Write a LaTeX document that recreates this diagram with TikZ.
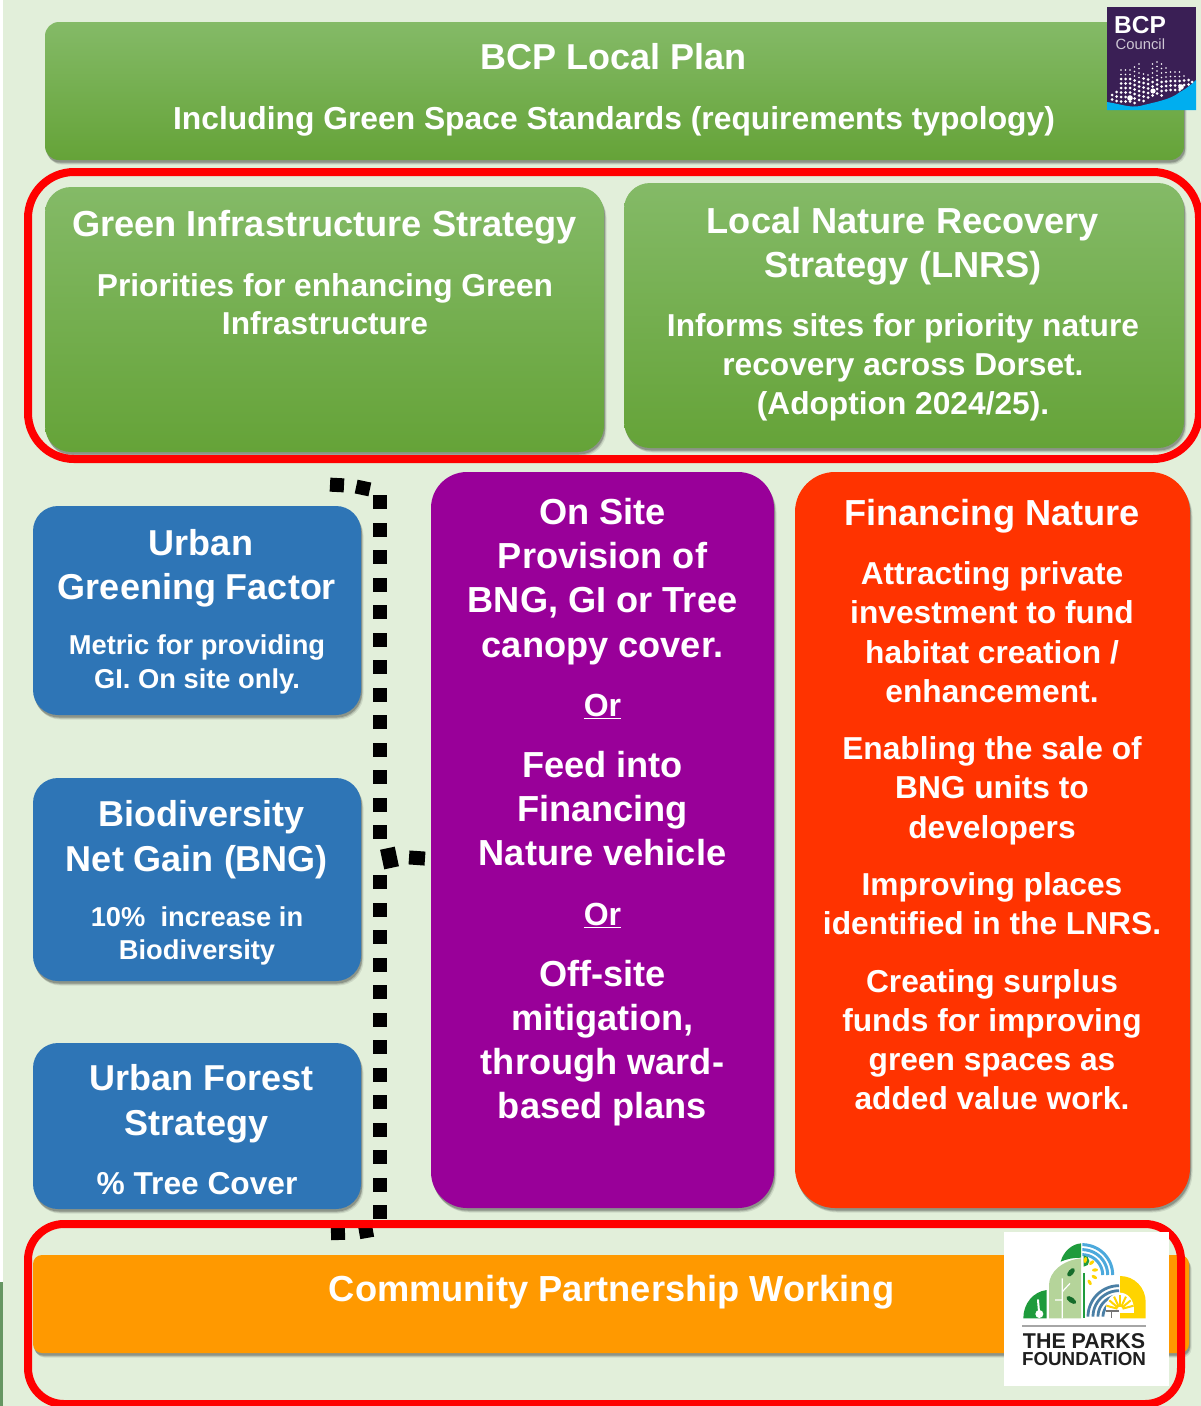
\documentclass[tikz,border=0pt]{standalone}
\usepackage{fontspec}
\setmainfont{Liberation Sans}
\usetikzlibrary{shadows}
\definecolor{pagebg}{HTML}{E2EFDA}
\definecolor{grtop}{HTML}{84BA67}
\definecolor{grbot}{HTML}{65A338}
\definecolor{bluebox}{HTML}{2E75B6}
\definecolor{purplebox}{HTML}{990099}
\definecolor{redbox}{HTML}{FF3300}
\definecolor{orangebox}{HTML}{FF9900}
\definecolor{bcpdark}{HTML}{3A1F55}
\definecolor{bcpcyan}{HTML}{00AEEF}
\definecolor{pkgreen}{HTML}{1E9B3C}
\definecolor{pkpale}{HTML}{B5D49A}
\definecolor{pkblue}{HTML}{4CA9DC}
\definecolor{pksteel}{HTML}{4A7FA5}
\definecolor{pkyellow}{HTML}{FFD400}
\tikzset{
  softshadow/.style={
    general shadow={shadow xshift=2.5pt,shadow yshift=-4.5pt,fill=black,opacity=.09},
    general shadow={shadow xshift=1.5pt,shadow yshift=-3.5pt,fill=black,opacity=.14},
    general shadow={shadow xshift=1pt,shadow yshift=-2.5pt,fill=black,opacity=.20}},
  panel/.style={rectangle,inner sep=0pt,outer sep=0pt,softshadow},
  greenpanel/.style={panel,top color=grtop,bottom color=grbot},
  bluepanel/.style={panel,fill=bluebox},
  purplepanel/.style={panel,fill=purplebox},
  redpanel/.style={panel,fill=redbox},
  orangepanel/.style={panel,fill=orangebox},
  frame/.style={rectangle,inner sep=0pt,outer sep=0pt,draw=red,line width=8pt},
  para/.style={anchor=north,inner sep=0pt,outer sep=0pt,align=center,text=white},
}
\newcommand{\panel}[7]{%
  \pgfmathsetmacro\pw{#4-#2}\pgfmathsetmacro\ph{#5-#3}%
  \pgfmathsetmacro\pcx{(#4+#2)/2}\pgfmathsetmacro\pcy{(#5+#3)/2}%
  \node[#7,rounded corners=#6pt,minimum width=\pw pt,minimum height=\ph pt] (#1) at (\pcx,\pcy) {};}
\newcommand{\para}[6]{%
  \pgfmathsetmacro\py{#3-0.7*#5}%
  \node[para,font={\fontsize{#4}{#5}\selectfont\bfseries}] (#1) at (#2,\py) {\strut #6};}
\newcommand{\sq}[3]{\fill[black,rotate around={#3:(#1,#2)}] (#1-7,#2-7) rectangle (#1+7,#2+7);}
\begin{document}
\begin{tikzpicture}[x=1pt,y=-1pt]
\useasboundingbox (0,0) rectangle (1201,1406);
\clip (0,0) rectangle (1201,1406);
\fill[pagebg] (0,0) rectangle (1201,1406);
\fill[white] (0,0) rectangle (3,1282);
\fill[green!30!black!55!pagebg] (0,1282) rectangle (3,1406);

% panels
\panel{plan}{45}{22}{1184}{160}{14}{greenpanel}
\panel{gi}{45}{187}{604}{452}{26}{greenpanel}
\panel{lnrs}{624}{183}{1184}{448}{26}{greenpanel}
\panel{ugf}{33}{506}{361}{715}{25}{bluepanel}
\panel{bng}{33}{778}{361}{981}{25}{bluepanel}
\panel{ufs}{33}{1043}{361}{1209}{25}{bluepanel}
\panel{onsite}{431}{472}{774}{1208}{36}{purplepanel}
\panel{fin}{795}{472}{1190}{1208}{40}{redpanel}
\panel{comm}{33}{1255}{1189}{1353}{9}{orangepanel}

% dotted bracket
\foreach \k in {0,...,12}{\pgfmathsetmacro\dy{502+27.5*\k}\sq{380}{\dy}{0}}
\foreach \k in {0,...,12}{\pgfmathsetmacro\dy{882+27.5*\k}\sq{380}{\dy}{0}}
\sq{337}{485}{-3}
\sq{363}{488}{-12}
\sq{338}{1233}{2}
\sq{366}{1231}{10}
\fill[black,rotate around={12:(389.5,858)}] (382,848) rectangle (397,868);
\fill[black,rotate around={-4:(417,858)}] (409,851) rectangle (425,865);

% frames
\panel{frametop}{28}{172}{1199}{459}{46}{frame}
\panel{framebot}{28}{1224}{1181}{1404}{36}{frame}

% texts
\para{planT}{613.5}{69}{36}{44}{BCP Local Plan}
\para{planS}{614}{129}{31.8}{39}{Including Green Space Standards (requirements typology)}
\para{giT}{324.5}{236}{36.2}{44}{Green Infrastructure Strategy}
\para{giS}{325}{296}{31.7}{38.5}{Priorities for enhancing Green\\Infrastructure}
\para{lnrsT}{903}{233}{36.2}{44}{Local Nature Recovery\\Strategy (LNRS)}
\para{lnrsS}{903}{336}{31.7}{39.2}{Informs sites for priority nature\\recovery across Dorset.\\(Adoption 2024/25).}
\para{ugfT}{197}{555}{36}{44}{\hspace*{8pt}Urban\\Greening Factor}
\para{ugfS}{197}{654}{27.3}{34}{Metric for providing\\GI. On site only.}
\para{bngT}{197}{826}{36}{45}{\hspace*{9pt}Biodiversity\\Net Gain (BNG)}
\para{bngS}{197}{926}{27.3}{33}{10\%\ \ increase in\\Biodiversity}
\para{ufsT}{197}{1090}{36}{45}{\hspace*{9pt}Urban Forest\\Strategy}
\para{ufsS}{197}{1194}{31.7}{39}{\% Tree Cover}
\para{osA}{602.5}{524}{36.2}{44.4}{On Site\\Provision of\\BNG, GI or Tree\\canopy cover.}
\para{osOrA}{602.5}{716}{32}{39}{\underline{Or}}
\para{osB}{602.5}{777.5}{36.2}{44}{Feed into\\Financing\\Nature vehicle}
\para{osOrB}{602.5}{925}{32}{39}{\underline{Or}}
\para{osC}{602.5}{986}{36.2}{44.3}{Off-site\\mitigation,\\through ward-\\based plans}
\para{finT}{992}{525}{36.2}{44}{Financing Nature}
\para{finA}{992}{584}{31.7}{39.5}{Attracting private\\investment to fund\\habitat creation /\\enhancement.}
\para{finB}{992}{759}{31.7}{39.5}{Enabling the sale of\\BNG units to\\developers}
\para{finC}{992}{895}{31.7}{39}{Improving places\\identified in the LNRS.}
\para{finD}{992}{992}{31.7}{39}{Creating surplus\\funds for improving\\green spaces as\\added value work.}
\para{commT}{611.5}{1301}{36.25}{44}{Community Partnership Working}

% BCP logo
\fill[bcpdark] (1107,7) rectangle (1196,110);
\fill[bcpcyan] (1107,110) -- (1107,102) .. controls (1120,104) and (1130,108) .. (1140,106) .. controls (1155,102) and (1170,100) .. (1180,92) .. controls (1186,89) and (1192,84) .. (1196,80) -- (1196,110) -- cycle;
\foreach \cx/\ct/\cb in {1112/95/101,1116.5/92/103,1121/70/104,1125.5/70/105,1130/70/105,1134.5/67/104,1139/64/103,1143.5/74/102,1148/75/100,1152.5/64/99,1157/62/97,1161.5/64/96,1166/68/95,1170.5/72/94,1175/72/93,1179.5/72/92,1184/76/89,1188.5/80/86,1192/82/84}{
  \foreach \k in {0,...,10}{
    \pgfmathsetmacro\yy{\ct+4.5*\k}
    \pgfmathsetmacro\rr{\yy<78 ? 0.8 : 1.5}
    \ifdim\yy pt<\cb pt \fill[white] (\cx,\yy) circle[radius=\rr]; \fi}}
\fill[white] (1130,98) circle[radius=2.8] (1153,91) circle[radius=2.6] (1181,87) circle[radius=2.8];
\node[anchor=base west,inner sep=0pt,text=white,font={\fontsize{24.5}{26}\selectfont\bfseries}] (bcpname) at (1114,33.5) {BCP};
\node[anchor=base west,inner sep=0pt,text=white!75!bcpdark,font={\fontsize{14.8}{16}\selectfont}] (bcpcouncil) at (1115.5,49.5) {Council};

% Parks Foundation logo
\fill[white] (1004,1232) rectangle (1169,1386);
\begin{scope}[shift={(980pt,-1210pt)},x=0.33333pt,y=-0.33333pt]
  \fill[pkgreen] (130,325) .. controls (130,280) and (160,245) .. (200,240) -- (200,325) -- cycle;
  \fill[white] (178,312) circle[radius=12];
  \draw[white,line width=2pt,line cap=round] (174,270) -- (177,305);
  \fill[pkpale] (207,325) -- (207,225) .. controls (207,185) and (250,150) .. (303,145) -- (303,325) -- cycle;
  \fill[pkgreen] (242,155) .. controls (250,125) and (275,102) .. (303,100) -- (303,143) .. controls (280,143) and (260,147) .. (242,155) -- cycle;
  \draw[white,line width=1.2pt] (247,205) -- (247,325) (247,245) -- (270,220) (225,270) -- (247,270);
  \fill[pkgreen!70!black,rotate around={50:(273,187)}] (273,187) ellipse[x radius=15,y radius=8];
  \fill[pkgreen!70!black,rotate around={-35:(274,270)}] (274,270) ellipse[x radius=17,y radius=8];
  \foreach \r in {91,76,61}{
    \draw[pkblue,line width=3pt] plot[domain=0:90,samples=24] ({307+\r*cos(\x)},{195-\r*sin(\x)});}
  \fill[pkgreen] (311,170) arc[start angle=90,end angle=-90,radius=17] -- cycle;
  \foreach \ex/\ey/\ea in {316/150/80,335/158/40,345/180/5,343/201/-30,329/217/-60}{
    \fill[pkyellow,rotate around={\ea:(\ex,\ey)}] (\ex,\ey) ellipse[x radius=9,y radius=5];}
  \draw[pkgreen,line width=1.8pt] (311,190) -- (311,325);
  \foreach \r in {93,78,63,48}{
    \draw[pksteel,line width=2.8pt] plot[domain=90:180,samples=24] ({417+\r*cos(\x)},{320-\r*sin(\x)});}
  \fill[pkyellow] (420,325) -- (420,198) .. controls (465,198) and (497,235) .. (497,275) -- (497,325) -- cycle;
  \fill[white] (378,300) -- (378,292) .. controls (380,265) and (400,248) .. (420,248) .. controls (442,248) and (462,268) .. (462,300) -- cycle;
  \foreach \ra in {15,40,65,90,115,140,165}{
    \draw[pkyellow,line width=2pt] ({420+8*cos(\ra)},{298-8*sin(\ra)}) -- ({420+42*cos(\ra)},{298-42*sin(\ra)});}
  \fill[white] (420,300) rectangle (462,308);
  \draw[black!55,line width=1.2pt] (378,303) -- (418,303) (395,303) -- (395,325);
  \draw[black!35,line width=1.6pt] (127,348) -- (497,348);
\end{scope}
\node[anchor=base,inner sep=0pt,text=black!88,font={\fontsize{21.4}{22}\selectfont\bfseries}] (parksA) at (1084,1348) {THE PARKS};
\node[anchor=base,inner sep=0pt,text=black!88,font={\fontsize{18.8}{20}\selectfont\bfseries}] (parksB) at (1084,1365) {FOUNDATION};
\end{tikzpicture}
\end{document}
